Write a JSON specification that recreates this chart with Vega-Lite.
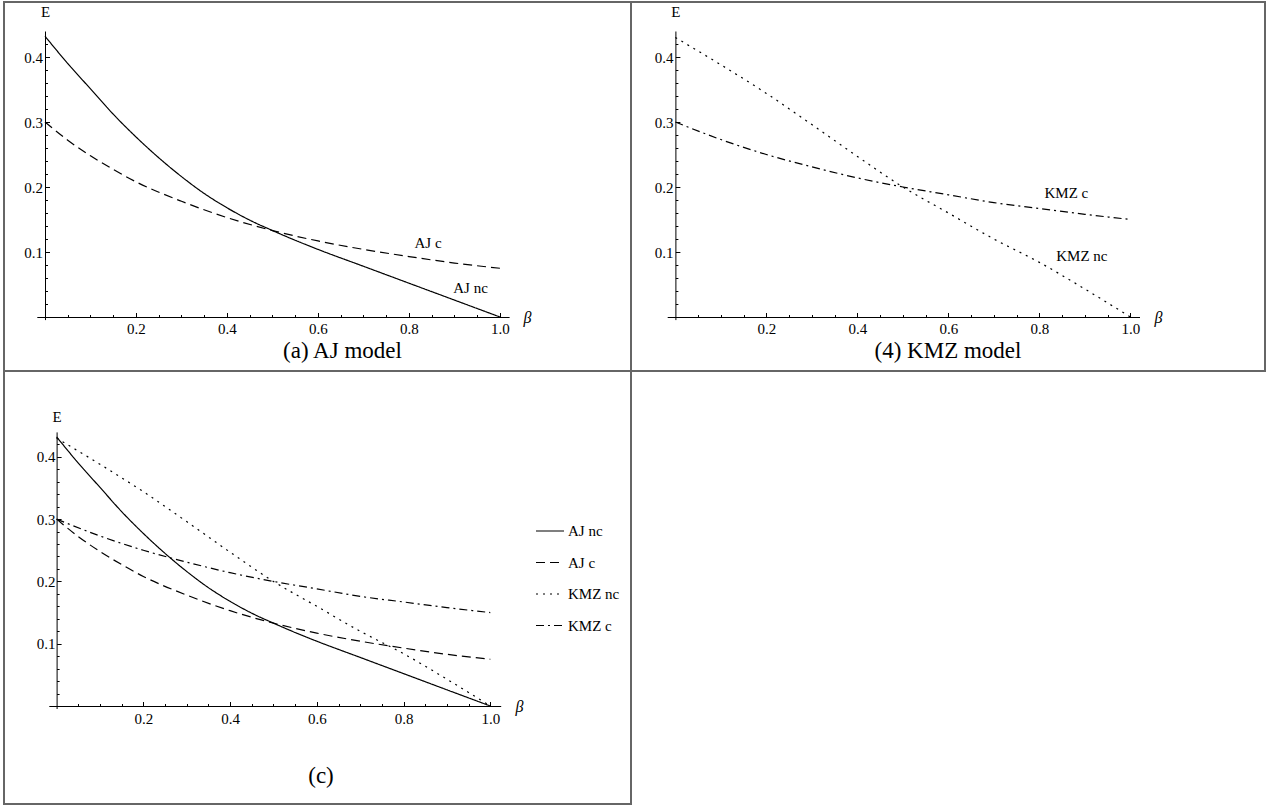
{
  "$schema": "https://vega.github.io/schema/vega-lite/v6.json",
  "padding": {"left": 3, "top": 1, "right": 0, "bottom": 0},
  "background": "white",
  "config": {
    "view": {"stroke": "#666666", "strokeWidth": 2},
    "font": "Liberation Serif",
    "axis": {"domainColor": "black", "domainWidth": 1, "tickColor": "black", "tickWidth": 1, "labelColor": "black", "titleColor": "black", "grid": false, "labelFont": "Liberation Serif", "titleFont": "Liberation Serif", "labelFontSize": 15, "titleFontWeight": "normal", "labelFlush": false, "labelOverlap": false},
    "title": {"font": "Liberation Serif", "fontWeight": "normal", "color": "black", "fontSize": 23}
  },
  "datasets": {
    "curves": [
      {"series": "AJ nc", "beta": 0, "E": 0.432},
      {"series": "AJ nc", "beta": 0.05, "E": 0.39},
      {"series": "AJ nc", "beta": 0.1, "E": 0.351},
      {"series": "AJ nc", "beta": 0.15, "E": 0.312},
      {"series": "AJ nc", "beta": 0.2, "E": 0.277},
      {"series": "AJ nc", "beta": 0.25, "E": 0.245},
      {"series": "AJ nc", "beta": 0.3, "E": 0.216},
      {"series": "AJ nc", "beta": 0.35, "E": 0.19},
      {"series": "AJ nc", "beta": 0.4, "E": 0.168},
      {"series": "AJ nc", "beta": 0.45, "E": 0.149},
      {"series": "AJ nc", "beta": 0.5, "E": 0.133},
      {"series": "AJ nc", "beta": 0.55, "E": 0.118},
      {"series": "AJ nc", "beta": 0.6, "E": 0.104},
      {"series": "AJ nc", "beta": 0.7, "E": 0.078},
      {"series": "AJ nc", "beta": 0.8, "E": 0.052},
      {"series": "AJ nc", "beta": 0.9, "E": 0.026},
      {"series": "AJ nc", "beta": 1.0, "E": 0.0},
      {"series": "AJ c", "beta": 0, "E": 0.3},
      {"series": "AJ c", "beta": 0.05, "E": 0.272},
      {"series": "AJ c", "beta": 0.1, "E": 0.248},
      {"series": "AJ c", "beta": 0.15, "E": 0.227},
      {"series": "AJ c", "beta": 0.2, "E": 0.208},
      {"series": "AJ c", "beta": 0.3, "E": 0.178},
      {"series": "AJ c", "beta": 0.4, "E": 0.153},
      {"series": "AJ c", "beta": 0.5, "E": 0.133},
      {"series": "AJ c", "beta": 0.6, "E": 0.117},
      {"series": "AJ c", "beta": 0.7, "E": 0.104},
      {"series": "AJ c", "beta": 0.8, "E": 0.093},
      {"series": "AJ c", "beta": 0.9, "E": 0.083},
      {"series": "AJ c", "beta": 1.0, "E": 0.075},
      {"series": "KMZ nc", "beta": 0, "E": 0.43},
      {"series": "KMZ nc", "beta": 0.1, "E": 0.388},
      {"series": "KMZ nc", "beta": 0.2, "E": 0.344},
      {"series": "KMZ nc", "beta": 0.3, "E": 0.296},
      {"series": "KMZ nc", "beta": 0.4, "E": 0.247},
      {"series": "KMZ nc", "beta": 0.5, "E": 0.2},
      {"series": "KMZ nc", "beta": 0.6, "E": 0.16},
      {"series": "KMZ nc", "beta": 0.7, "E": 0.12},
      {"series": "KMZ nc", "beta": 0.8, "E": 0.084},
      {"series": "KMZ nc", "beta": 0.9, "E": 0.043},
      {"series": "KMZ nc", "beta": 1.0, "E": 0.0},
      {"series": "KMZ c", "beta": 0, "E": 0.3},
      {"series": "KMZ c", "beta": 0.1, "E": 0.273},
      {"series": "KMZ c", "beta": 0.2, "E": 0.25},
      {"series": "KMZ c", "beta": 0.3, "E": 0.231},
      {"series": "KMZ c", "beta": 0.4, "E": 0.214},
      {"series": "KMZ c", "beta": 0.5, "E": 0.2},
      {"series": "KMZ c", "beta": 0.6, "E": 0.188},
      {"series": "KMZ c", "beta": 0.7, "E": 0.176},
      {"series": "KMZ c", "beta": 0.8, "E": 0.167},
      {"series": "KMZ c", "beta": 0.9, "E": 0.158},
      {"series": "KMZ c", "beta": 1.0, "E": 0.15}
    ]
  },
  "columns": 2,
  "spacing": 0,
  "bounds": "flush",
  "resolve": {"scale": {"strokeDash": "independent"}, "legend": {"strokeDash": "independent"}},
  "concat": [
    {
      "width": 627,
      "height": 369,
      "title": {"text": "(a) AJ model", "orient": "bottom", "frame": "group", "offset": -31, "dx": 25, "font": "Liberation Serif", "fontSize": 23, "fontWeight": "normal"},
      "data": {"name": "curves"},
      "transform": [{"filter": "datum.series == 'AJ nc' || datum.series == 'AJ c'"}],
      "encoding": {
        "x": {"field": "beta", "type": "quantitative", "scale": {"domain": [-0.018, 1.02], "range": [32.8, 505.1]},
          "axis": {"orient": "bottom", "offset": -54,
            "values": [0.05,0.1,0.15,0.2,0.25,0.3,0.35,0.4,0.45,0.5,0.55,0.6,0.65,0.7,0.75,0.8,0.85,0.9,0.95,1.0],
            "tickSize": {"condition": {"test": "abs(datum.value*5-round(datum.value*5))<0.001", "value": -4.5}, "value": -2.5},
            "labelExpr": "abs(datum.value*5-round(datum.value*5))<0.001 ? format(datum.value,'.1f') : ''",
            "labelPadding": 9,
            "title": "β", "titleFontStyle": "italic", "titleFontSize": 16, "titleX": 523, "titleY": 0, "titleAlign": "center", "titleBaseline": "middle"}},
        "y": {"field": "E", "type": "quantitative", "scale": {"domain": [-0.004, 0.44], "range": [317.6, 29]},
          "axis": {"orient": "left", "offset": -41,
            "values": [0.02,0.04,0.06,0.08,0.1,0.12,0.14,0.16,0.18,0.2,0.22,0.24,0.26,0.28,0.3,0.32,0.34,0.36,0.38,0.4,0.42],
            "tickSize": {"condition": {"test": "abs(datum.value*10-round(datum.value*10))<0.001", "value": -4.5}, "value": -2.5},
            "labelExpr": "abs(datum.value*10-round(datum.value*10))<0.001 ? format(datum.value,'.1f') : ''",
            "labelPadding": 7,
            "title": "E", "titleAngle": 0, "titleFontSize": 15, "titleX": 0, "titleY": 9, "titleAlign": "center", "titleBaseline": "middle"}}
      },
      "layer": [
        {
          "mark": {"type": "line", "interpolate": "monotone", "strokeWidth": 1.2, "color": "black"},
          "encoding": {
            "strokeDash": {"field": "series", "type": "nominal", "scale": {"domain": ["AJ nc", "AJ c", "KMZ nc", "KMZ c"], "range": [[1, 0], [9, 5], [2, 5], [8, 4, 2, 4]]}, "legend": null}
          }
        },
        {
          "transform": [{"filter": "datum.beta == 0.8 && datum.series == 'AJ c'"}],
          "mark": {"type": "text", "fontSize": 15, "font": "Liberation Serif", "color": "black", "dx": 19, "dy": -14},
          "encoding": {"text": {"field": "series"}}
        },
        {
          "transform": [{"filter": "datum.beta == 0.9 && datum.series == 'AJ nc'"}],
          "mark": {"type": "text", "fontSize": 15, "font": "Liberation Serif", "color": "black", "dx": 16, "dy": -12},
          "encoding": {"text": {"field": "series"}}
        }
      ]
    },
    {
      "width": 634,
      "height": 369,
      "title": {"text": "(4) KMZ model", "orient": "bottom", "frame": "group", "offset": -31, "dx": 0, "font": "Liberation Serif", "fontSize": 23, "fontWeight": "normal"},
      "data": {"name": "curves"},
      "transform": [{"filter": "datum.series == 'KMZ nc' || datum.series == 'KMZ c'"}],
      "encoding": {
        "x": {"field": "beta", "type": "quantitative", "scale": {"domain": [-0.018, 1.02], "range": [36.2, 508.5]},
          "axis": {"orient": "bottom", "offset": -54,
            "values": [0.05,0.1,0.15,0.2,0.25,0.3,0.35,0.4,0.45,0.5,0.55,0.6,0.65,0.7,0.75,0.8,0.85,0.9,0.95,1.0],
            "tickSize": {"condition": {"test": "abs(datum.value*5-round(datum.value*5))<0.001", "value": -4.5}, "value": -2.5},
            "labelExpr": "abs(datum.value*5-round(datum.value*5))<0.001 ? format(datum.value,'.1f') : ''",
            "labelPadding": 9,
            "title": "β", "titleFontStyle": "italic", "titleFontSize": 16, "titleX": 527, "titleY": 0, "titleAlign": "center", "titleBaseline": "middle"}},
        "y": {"field": "E", "type": "quantitative", "scale": {"domain": [-0.004, 0.44], "range": [317.6, 29]},
          "axis": {"orient": "left", "offset": -44.4,
            "values": [0.02,0.04,0.06,0.08,0.1,0.12,0.14,0.16,0.18,0.2,0.22,0.24,0.26,0.28,0.3,0.32,0.34,0.36,0.38,0.4,0.42],
            "tickSize": {"condition": {"test": "abs(datum.value*10-round(datum.value*10))<0.001", "value": -4.5}, "value": -2.5},
            "labelExpr": "abs(datum.value*10-round(datum.value*10))<0.001 ? format(datum.value,'.1f') : ''",
            "labelPadding": 7,
            "title": "E", "titleAngle": 0, "titleFontSize": 15, "titleX": 0, "titleY": 9, "titleAlign": "center", "titleBaseline": "middle"}}
      },
      "layer": [
        {
          "mark": {"type": "line", "interpolate": "monotone", "strokeWidth": 1.2, "color": "black"},
          "encoding": {
            "strokeDash": {"field": "series", "type": "nominal", "scale": {"domain": ["AJ nc", "AJ c", "KMZ nc", "KMZ c"], "range": [[1, 0], [9, 5], [2, 5], [8, 4, 2, 4]]}, "legend": null}
          }
        },
        {
          "transform": [{"filter": "datum.beta == 0.8 && datum.series == 'KMZ c'"}],
          "mark": {"type": "text", "fontSize": 15, "font": "Liberation Serif", "color": "black", "dx": 27, "dy": -15},
          "encoding": {"text": {"field": "series"}}
        },
        {
          "transform": [{"filter": "datum.beta == 0.9 && datum.series == 'KMZ nc'"}],
          "mark": {"type": "text", "fontSize": 15, "font": "Liberation Serif", "color": "black", "dx": -3, "dy": -33},
          "encoding": {"text": {"field": "series"}}
        }
      ]
    },
    {
      "width": 627,
      "height": 433,
      "title": {"text": "(c)", "orient": "bottom", "frame": "group", "offset": -39, "dx": 3.5, "font": "Liberation Serif", "fontSize": 23, "fontWeight": "normal"},
      "data": {"name": "curves"},
      "mark": {"type": "line", "interpolate": "monotone", "strokeWidth": 1.2, "color": "black"},
      "encoding": {
        "x": {"field": "beta", "type": "quantitative", "scale": {"domain": [-0.018, 1.024], "range": [44.8, 496.7]},
          "axis": {"orient": "bottom", "offset": -98,
            "values": [0.05,0.1,0.15,0.2,0.25,0.3,0.35,0.4,0.45,0.5,0.55,0.6,0.65,0.7,0.75,0.8,0.85,0.9,0.95,1.0],
            "tickSize": {"condition": {"test": "abs(datum.value*5-round(datum.value*5))<0.001", "value": -4.5}, "value": -2.5},
            "labelExpr": "abs(datum.value*5-round(datum.value*5))<0.001 ? format(datum.value,'.1f') : ''",
            "labelPadding": 10,
            "title": "β", "titleFontStyle": "italic", "titleFontSize": 16, "titleX": 515, "titleY": 0, "titleAlign": "center", "titleBaseline": "middle"}},
        "y": {"field": "E", "type": "quantitative", "scale": {"domain": [-0.004, 0.44], "range": [337.5, 60.9]},
          "axis": {"orient": "left", "offset": -52.6,
            "values": [0.02,0.04,0.06,0.08,0.1,0.12,0.14,0.16,0.18,0.2,0.22,0.24,0.26,0.28,0.3,0.32,0.34,0.36,0.38,0.4,0.42],
            "tickSize": {"condition": {"test": "abs(datum.value*10-round(datum.value*10))<0.001", "value": -4.5}, "value": -2.5},
            "labelExpr": "abs(datum.value*10-round(datum.value*10))<0.001 ? format(datum.value,'.1f') : ''",
            "labelPadding": 6,
            "title": "E", "titleAngle": 0, "titleFontSize": 15, "titleX": 0, "titleY": 45, "titleAlign": "center", "titleBaseline": "middle"}},
        "strokeDash": {"field": "series", "type": "nominal", "scale": {"domain": ["AJ nc", "AJ c", "KMZ nc", "KMZ c"], "range": [[1, 0], [9, 5], [2, 5], [8, 4, 2, 4]]},
          "legend": {"orient": "none", "legendX": 531, "legendY": 145, "title": null, "symbolType": "stroke", "symbolSize": 784, "symbolStrokeWidth": 1.2, "symbolStrokeColor": "black", "labelFont": "Liberation Serif", "labelFontSize": 15, "labelColor": "black", "labelOffset": 3, "rowPadding": 8.5}}
      }
    },
    {
      "width": 634,
      "height": 433,
      "data": {"values": [{"label": ""}]},
      "mark": {"type": "text", "opacity": 0},
      "encoding": {"text": {"field": "label"}}
    }
  ]
}
